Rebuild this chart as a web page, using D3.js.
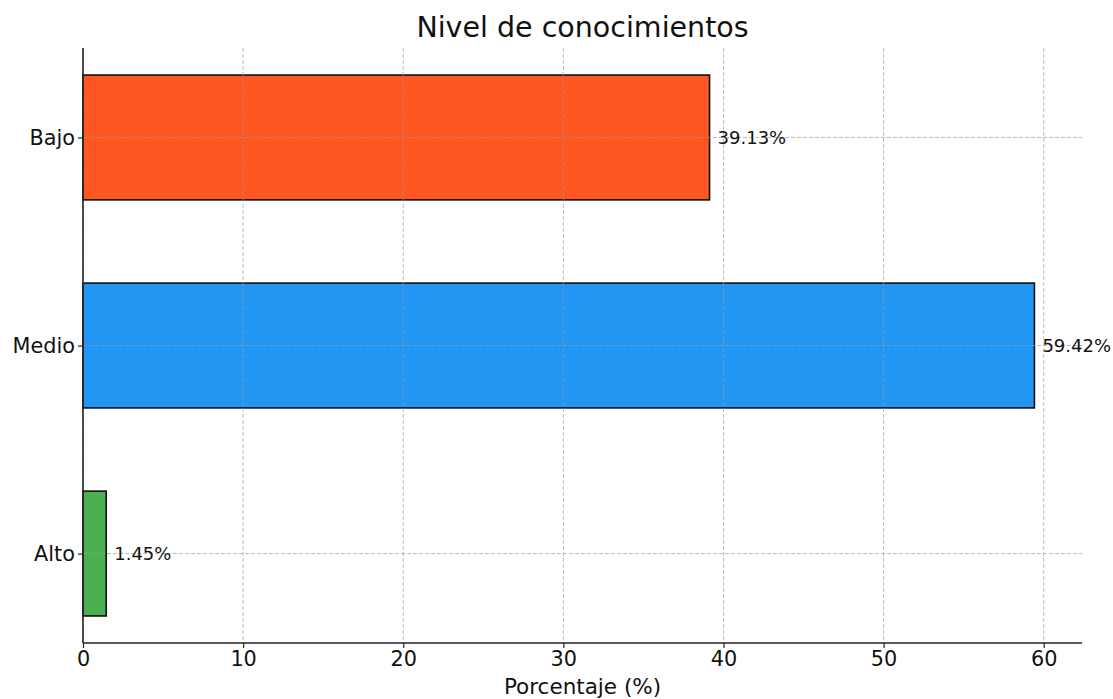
<!DOCTYPE html>
<html><head><meta charset="utf-8">
<script src="https://cdn.jsdelivr.net/npm/d3@7"></script>
<style>body{margin:0;background:#fff;font-family:"DejaVu Sans",sans-serif;}</style>
</head><body><svg id="c" width="1113" height="699"></svg>
<script>
const categories = ["Alto", "Medio", "Bajo"];
const values = [1.45, 59.42, 39.13];
const colors = ["#4CAF50", "#2196F3", "#FF5722"];
const xTicks = [0, 10, 20, 30, 40, 50, 60];
const title = "Nivel de conocimientos";
const xLabel = "Porcentaje (%)";

const svg = d3.select("#c");
const L = 83, R = 1082, T = 48, B = 643;
const xMax = d3.max(values) * 1.05;
const x = d3.scaleLinear().domain([0, xMax]).range([L, R]);
const y = d3.scaleLinear().domain([-0.43, categories.length - 1 + 0.43]).range([B, T]);
const bh = y(0) - y(0.6);

// bars
svg.selectAll("rect.bar").data(values).join("rect")
  .attr("x", x(0)).attr("y", (d, i) => y(i) - bh / 2)
  .attr("width", d => x(d) - x(0)).attr("height", bh)
  .attr("fill", (d, i) => colors[i]).attr("stroke", "#111").attr("stroke-width", 1.6);

// grid on top
const g = svg.append("g");
g.selectAll("line.gx").data(xTicks).join("line")
  .attr("x1", d => x(d)).attr("x2", d => x(d)).attr("y1", T).attr("y2", B)
  .attr("stroke", "#9a9a9a").attr("stroke-opacity", 0.75).attr("stroke-width", 0.9).attr("stroke-dasharray", "4,2");
g.selectAll("line.gy").data(categories).join("line")
  .attr("x1", L).attr("x2", R).attr("y1", (d, i) => y(i)).attr("y2", (d, i) => y(i))
  .attr("stroke", "#9a9a9a").attr("stroke-opacity", 0.75).attr("stroke-width", 0.9).attr("stroke-dasharray", "4,2");

// axes
const xa = svg.append("g").attr("transform", `translate(0,${B})`)
  .call(d3.axisBottom(x).tickValues(xTicks).tickSize(5).tickPadding(3).tickFormat(d3.format("d")));
const ya = svg.append("g").attr("transform", `translate(${L},0)`)
  .call(d3.axisLeft(y).tickValues(d3.range(categories.length)).tickSize(5).tickPadding(3).tickFormat(i => categories[i]));
[xa, ya].forEach(a => {
  a.select(".domain").attr("stroke", "#222").attr("stroke-width", 1.6);
  a.selectAll(".tick line").attr("stroke", "#222").attr("stroke-width", 1.2);
  a.selectAll(".tick text").attr("fill", "#111").style("font-family", "DejaVu Sans").style("font-size", "20.8px");
});
xa.select(".domain").attr("d", `M${L},0H${R}`);
ya.select(".domain").attr("d", `M0,${B}V${T}`);

// value labels
svg.selectAll("text.val").data(values).join("text")
  .attr("x", d => x(d + 0.5)).attr("y", (d, i) => y(i)).attr("dy", "0.35em")
  .attr("fill", "#111").style("font-size", "18px").text(d => d.toFixed(2) + "%");

svg.append("text").attr("x", (L + R) / 2).attr("y", 37).attr("text-anchor", "middle")
  .style("font-size", "28.5px").attr("fill", "#111").text(title);
svg.append("text").attr("x", (L + R) / 2).attr("y", 694).attr("text-anchor", "middle")
  .style("font-size", "21.5px").attr("fill", "#111").text(xLabel);
</script></body></html>
